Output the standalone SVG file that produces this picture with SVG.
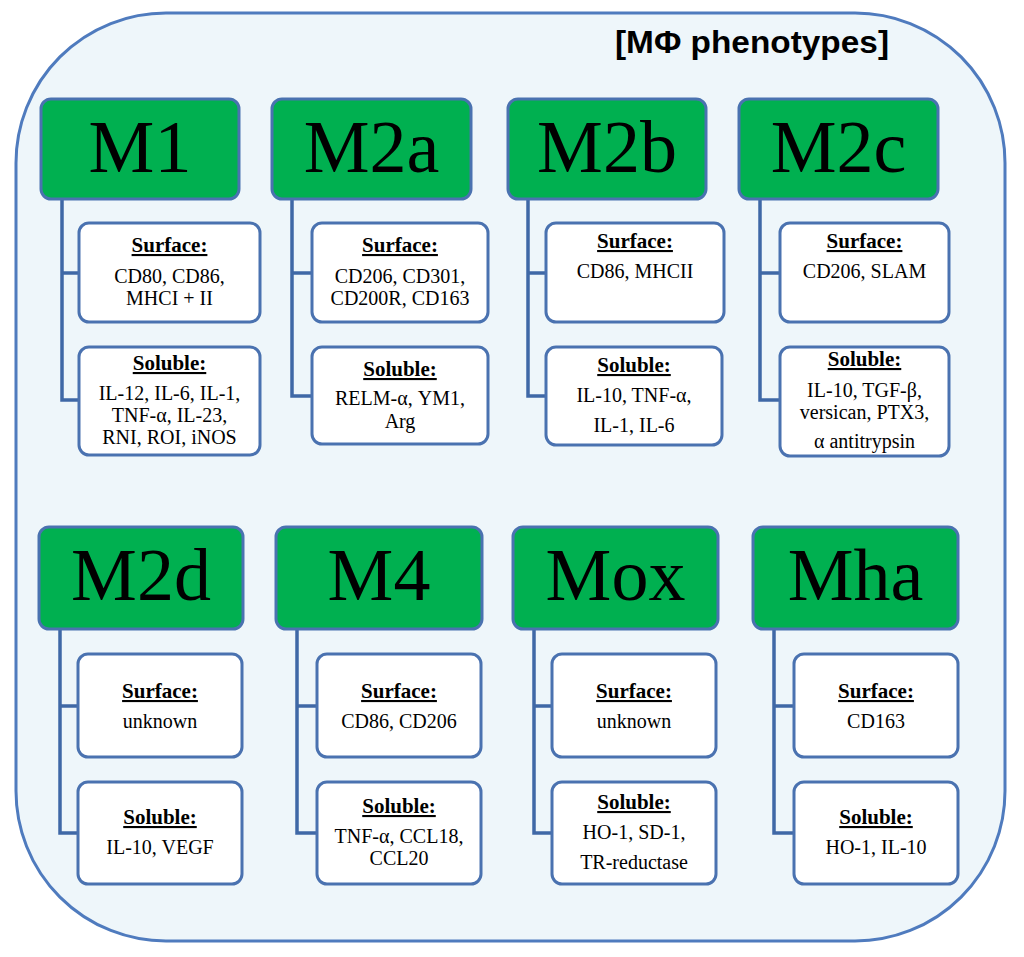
<svg xmlns="http://www.w3.org/2000/svg" width="1024" height="957" viewBox="0 0 1024 957">
<style>
.hd{fill:#00B050;stroke:#4A72B0;stroke-width:3}
.sb{fill:#FFFFFF;stroke:#4A72B0;stroke-width:3}
.ht{font-family:"Liberation Serif","Times New Roman",serif;font-size:74px;fill:#000;text-anchor:middle}
.lb{font-family:"Liberation Serif","Times New Roman",serif;font-size:21px;font-weight:bold;text-decoration:underline;fill:#000;text-anchor:middle}
.tx{font-family:"Liberation Serif","Times New Roman",serif;font-size:20px;fill:#000;text-anchor:middle}
.cn{fill:none;stroke:#3F68A6;stroke-width:3.5}
</style>
<rect x="0" y="0" width="1024" height="957" fill="#FFFFFF"/>
<rect id="frame" x="16" y="13" width="989" height="928" rx="150" ry="150" fill="#EEF6FA" stroke="#4F7BBE" stroke-width="3"/>
<text id="title" x="752" y="53" font-family="'Liberation Sans',Arial,sans-serif" font-size="31" font-weight="bold" fill="#000" text-anchor="middle" textLength="274" lengthAdjust="spacingAndGlyphs">[MΦ phenotypes]</text>
<g id="connectors">
<path class="cn" d="M62,199 V400 H79 M62,273 H79"/>
<path class="cn" d="M292,199 V396 H312 M292,273 H312"/>
<path class="cn" d="M528,199 V396 H546 M528,273 H546"/>
<path class="cn" d="M760,199 V400 H780 M760,273 H780"/>
<path class="cn" d="M60,629 V833 H78 M60,706 H78"/>
<path class="cn" d="M297,629 V833 H317 M297,706 H317"/>
<path class="cn" d="M534,629 V833 H552 M534,706 H552"/>
<path class="cn" d="M774,629 V833 H794 M774,706 H794"/>
</g>
<g id="M1">
<rect class="hd" x="41" y="99" width="198" height="100" rx="10"/>
<text class="ht" x="140" y="172">M1</text>
</g>
<g id="M1-surface">
<rect class="sb" x="79" y="223" width="181" height="99" rx="10"/>
<text class="lb" x="169.5" y="252">Surface:</text>
<text class="tx" x="169.5" y="283">CD80, CD86,</text>
<text class="tx" x="169.5" y="305">MHCI + II</text>
</g>
<g id="M1-soluble">
<rect class="sb" x="79" y="347" width="181" height="108" rx="10"/>
<text class="lb" x="169.5" y="370">Soluble:</text>
<text class="tx" x="169.5" y="400">IL-12, IL-6, IL-1,</text>
<text class="tx" x="169.5" y="422">TNF-α, IL-23,</text>
<text class="tx" x="169.5" y="444">RNI, ROI, iNOS</text>
</g>
<g id="M2a">
<rect class="hd" x="272" y="99" width="199" height="100" rx="10"/>
<text class="ht" x="371.5" y="172">M2a</text>
</g>
<g id="M2a-surface">
<rect class="sb" x="312" y="223" width="176" height="99" rx="10"/>
<text class="lb" x="400" y="252">Surface:</text>
<text class="tx" x="400" y="283">CD206, CD301,</text>
<text class="tx" x="400" y="305">CD200R, CD163</text>
</g>
<g id="M2a-soluble">
<rect class="sb" x="312" y="347" width="176" height="97" rx="10"/>
<text class="lb" x="400" y="376">Soluble:</text>
<text class="tx" x="400" y="405">RELM-α, YM1,</text>
<text class="tx" x="400" y="428">Arg</text>
</g>
<g id="M2b">
<rect class="hd" x="508" y="99" width="198" height="100" rx="10"/>
<text class="ht" x="607" y="172">M2b</text>
</g>
<g id="M2b-surface">
<rect class="sb" x="546" y="223" width="178" height="99" rx="10"/>
<text class="lb" x="635" y="248">Surface:</text>
<text class="tx" x="635" y="278">CD86, MHCII</text>
</g>
<g id="M2b-soluble">
<rect class="sb" x="546" y="347" width="176" height="98" rx="10"/>
<text class="lb" x="634" y="372">Soluble:</text>
<text class="tx" x="634" y="402">IL-10, TNF-α,</text>
<text class="tx" x="634" y="432">IL-1, IL-6</text>
</g>
<g id="M2c">
<rect class="hd" x="739" y="99" width="199" height="100" rx="10"/>
<text class="ht" x="838.5" y="172">M2c</text>
</g>
<g id="M2c-surface">
<rect class="sb" x="780" y="223" width="169" height="99" rx="10"/>
<text class="lb" x="864.5" y="248">Surface:</text>
<text class="tx" x="864.5" y="278">CD206, SLAM</text>
</g>
<g id="M2c-soluble">
<rect class="sb" x="780" y="347" width="169" height="109" rx="10"/>
<text class="lb" x="864.5" y="366">Soluble:</text>
<text class="tx" x="864.5" y="397">IL-10, TGF-β,</text>
<text class="tx" x="864.5" y="419">versican, PTX3,</text>
<text class="tx" x="864.5" y="448">α antitrypsin</text>
</g>
<g id="M2d">
<rect class="hd" x="39" y="527" width="204" height="102" rx="10"/>
<text class="ht" x="141" y="600">M2d</text>
</g>
<g id="M2d-surface">
<rect class="sb" x="78" y="654" width="164" height="103" rx="10"/>
<text class="lb" x="160" y="698">Surface:</text>
<text class="tx" x="160" y="728">unknown</text>
</g>
<g id="M2d-soluble">
<rect class="sb" x="78" y="782" width="164" height="102" rx="10"/>
<text class="lb" x="160" y="824">Soluble:</text>
<text class="tx" x="160" y="854">IL-10, VEGF</text>
</g>
<g id="M4">
<rect class="hd" x="276" y="527" width="206" height="102" rx="10"/>
<text class="ht" x="379" y="600">M4</text>
</g>
<g id="M4-surface">
<rect class="sb" x="317" y="654" width="164" height="103" rx="10"/>
<text class="lb" x="399" y="698">Surface:</text>
<text class="tx" x="399" y="728">CD86, CD206</text>
</g>
<g id="M4-soluble">
<rect class="sb" x="317" y="782" width="164" height="102" rx="10"/>
<text class="lb" x="399" y="813">Soluble:</text>
<text class="tx" x="399" y="843">TNF-α, CCL18,</text>
<text class="tx" x="399" y="865">CCL20</text>
</g>
<g id="Mox">
<rect class="hd" x="513" y="527" width="205" height="102" rx="10"/>
<text class="ht" x="615.5" y="600">Mox</text>
</g>
<g id="Mox-surface">
<rect class="sb" x="552" y="654" width="164" height="103" rx="10"/>
<text class="lb" x="634" y="698">Surface:</text>
<text class="tx" x="634" y="728">unknown</text>
</g>
<g id="Mox-soluble">
<rect class="sb" x="552" y="782" width="164" height="102" rx="10"/>
<text class="lb" x="634" y="809">Soluble:</text>
<text class="tx" x="634" y="839">HO-1, SD-1,</text>
<text class="tx" x="634" y="869">TR-reductase</text>
</g>
<g id="Mha">
<rect class="hd" x="753" y="527" width="205" height="102" rx="10"/>
<text class="ht" x="855.5" y="600">Mha</text>
</g>
<g id="Mha-surface">
<rect class="sb" x="794" y="654" width="164" height="103" rx="10"/>
<text class="lb" x="876" y="698">Surface:</text>
<text class="tx" x="876" y="728">CD163</text>
</g>
<g id="Mha-soluble">
<rect class="sb" x="794" y="782" width="164" height="102" rx="10"/>
<text class="lb" x="876" y="824">Soluble:</text>
<text class="tx" x="876" y="854">HO-1, IL-10</text>
</g>
</svg>
